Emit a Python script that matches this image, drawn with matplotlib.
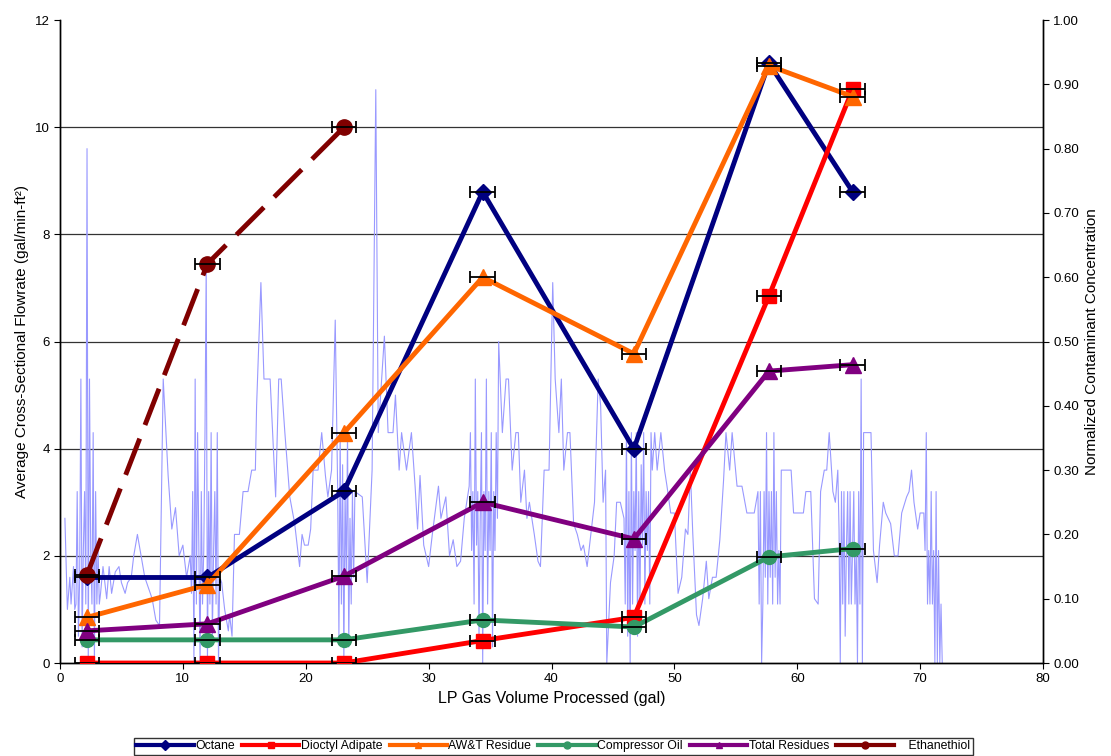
import matplotlib
matplotlib.use("Agg")
import matplotlib.pyplot as plt
from matplotlib.ticker import FormatStrFormatter, MultipleLocator

plt.rcParams['font.family'] = ['Liberation Sans', 'DejaVu Sans']

# ---- Flowrate trace (left axis) ----
flow_x = [0.4, 0.6, 0.8, 0.9, 1.1, 1.2,
          1.3, 1.4, 1.5, 1.6, 1.7, 1.8, 1.9, 2.0, 2.1, 2.2, 2.3, 2.4, 2.5, 2.6, 2.7, 2.8, 2.9, 3.0, 3.1, 3.2, 3.3,
          3.5, 3.8, 4.0, 4.2, 4.5, 4.8, 5.0, 5.3, 5.5, 5.8, 6.0, 6.3, 6.6, 6.9, 7.2, 7.5, 7.8, 8.1, 8.4, 8.8, 9.1,
          9.4, 9.7, 10.0, 10.3,
          10.6, 10.7, 10.8, 10.9, 11.0, 11.1, 11.2, 11.3, 11.4, 11.5, 11.6, 11.7, 11.8, 11.9, 12.0, 12.1, 12.2,
          12.3, 12.4, 12.5, 12.6, 12.7, 12.8, 12.9, 13.0,
          13.16, 13.4, 13.7, 13.8, 14.0, 14.2, 14.6, 14.9, 15.3, 15.6, 15.9, 16.0, 16.35, 16.6, 17.1, 17.55, 17.8,
          18.0, 18.3, 18.7, 19.1, 19.5, 19.7, 19.9, 20.2, 20.4, 20.6, 21.0, 21.3, 21.6, 21.8, 22.1, 22.4, 22.5,
          22.6, 22.7, 22.8, 22.9, 23.0, 23.1, 23.2, 23.3, 23.4, 23.5, 23.6, 23.7, 23.8, 23.9, 24.0,
          24.6, 25.0, 25.4, 25.7, 25.9, 26.4, 26.7, 27.1, 27.3, 27.6, 27.8, 28.2, 28.6, 28.9, 29.1, 29.3, 29.6,
          30.0, 30.3, 30.8, 31.0, 31.4, 31.7, 32.0, 32.3, 32.6, 32.9, 33.3,
          33.4, 33.5, 33.6, 33.7, 33.8, 33.9, 34.0, 34.1, 34.2, 34.3, 34.4, 34.5, 34.6, 34.7, 34.8, 34.9, 35.0,
          35.1, 35.2, 35.3, 35.4, 35.5, 35.6,
          35.7, 36.0, 36.3, 36.5, 36.8, 37.1, 37.3, 37.5, 37.8, 38.0, 38.2, 38.6, 38.9, 39.1, 39.4, 39.8, 40.1,
          40.3, 40.6, 40.8, 41.0, 41.3, 41.5, 41.8, 42.1, 42.4, 42.6, 42.9, 43.2, 43.5, 43.8, 44.0, 44.2, 44.4,
          44.5, 44.8, 45.1, 45.3, 45.6, 45.9,
          46.0, 46.1, 46.2, 46.3, 46.4, 46.5, 46.6, 46.7, 46.8, 46.9, 47.0, 47.1, 47.2, 47.3, 47.4, 47.5, 47.6,
          47.7, 47.8, 47.9, 48.0, 48.1, 48.2,
          48.4, 48.6, 48.9, 49.2, 49.4, 49.7, 50.0, 50.3, 50.6, 50.9, 51.1, 51.3, 51.5, 51.8, 52.0, 52.3, 52.6,
          52.8, 53.1, 53.4, 53.7, 54.0, 54.2, 54.5, 54.7, 55.1, 55.5, 55.9, 56.5, 56.8,
          56.9, 57.0, 57.1, 57.2, 57.3, 57.4, 57.5, 57.6, 57.7, 57.8, 57.9, 58.0, 58.1, 58.2, 58.3, 58.4, 58.5,
          58.6, 58.7,
          59.1, 59.5, 59.7, 59.9, 60.5, 60.7, 61.1, 61.4, 61.7, 61.9, 62.2, 62.4, 62.6, 62.9, 63.1, 63.3, 63.4,
          63.5, 63.6, 63.7, 63.8, 63.9, 64.0, 64.1, 64.2, 64.3, 64.4, 64.5, 64.6, 64.7, 64.8, 64.9, 65.0, 65.1,
          65.2, 65.3, 65.4,
          65.7, 66.0, 66.2, 66.5, 66.7, 67.0, 67.2, 67.6, 67.9, 68.2, 68.5, 68.9, 69.1, 69.3, 69.5, 69.8, 70.0,
          70.3,
          70.4, 70.5, 70.6, 70.7, 70.8, 70.9, 71.0, 71.1, 71.2, 71.3, 71.4, 71.5, 71.6, 71.7, 71.8]
flow_y = [2.7, 1.0, 1.6, 1.1, 1.8, 1.0,
          1.1, 3.2, 0.5, 1.6, 5.3, 0.3, 2.1, 3.2, 1.1, 9.6, 0.0, 5.3, 2.1, 1.1, 4.3, 0.0, 3.2, 1.1, 2.1, 1.1, 1.3,
          1.8, 1.2, 1.8, 1.3, 1.7, 1.8, 1.5, 1.3, 1.5, 1.6, 2.0, 2.4, 2.0, 1.6, 1.4, 1.2, 0.8, 0.7, 5.3, 3.5, 2.5,
          2.9, 2.0, 2.2, 1.6,
          2.0, 1.3, 3.2, 0.0, 5.3, 1.1, 4.3, 2.1, 0.0, 3.2, 1.1, 2.1, 4.3, 7.45, 0.0, 3.2, 1.1,
          4.3, 0.5, 2.1, 3.2, 1.1, 4.3, 0.0, 1.6,
          1.5, 1.0, 0.6, 0.9, 0.5, 2.4, 2.4, 3.2, 3.2, 3.6, 3.6, 4.8, 7.1, 5.3, 5.3, 3.1, 5.3,
          5.3, 4.3, 3.1, 2.6, 1.8, 2.4, 2.2, 2.2, 2.5, 3.6, 3.6, 4.3, 3.5, 3.1, 3.6, 6.4, 4.8,
          3.2, 0.5, 4.3, 1.1, 3.7, 0.0, 3.2, 1.6, 4.3, 0.3, 2.7, 1.1, 3.2, 1.6, 3.2,
          3.1, 1.5, 3.6, 10.7, 4.3, 6.1, 4.3, 4.3, 5.0, 3.6, 4.3, 3.6, 4.3, 3.3, 2.5, 3.5, 2.2,
          1.8, 2.4, 3.3, 2.7, 3.1, 2.0, 2.3, 1.8, 1.9, 2.7, 3.3,
          4.3, 2.1, 3.2, 1.1, 5.3, 2.2, 3.2, 0.5, 2.7, 4.3, 0.0, 3.2, 2.1, 5.3, 1.1, 3.2, 2.1,
          4.3, 0.3, 3.2, 2.1, 4.3, 2.7,
          6.0, 4.3, 5.3, 5.3, 3.6, 4.3, 4.3, 3.0, 3.6, 2.7, 3.0, 2.4, 1.9, 1.8, 3.6, 3.6, 7.1,
          5.3, 4.3, 5.3, 3.6, 4.3, 4.3, 2.6, 2.4, 2.1, 2.2, 1.8, 2.4, 3.0, 5.3, 4.8, 3.0, 3.6,
          0.0, 1.5, 2.0, 3.0, 3.0, 2.7,
          1.1, 4.3, 0.5, 3.2, 0.0, 4.3, 1.1, 3.2, 2.1, 4.3, 0.5, 3.2, 1.1, 3.7, 2.2, 4.3, 1.1,
          3.2, 2.1, 3.2, 1.1, 4.3, 3.6,
          4.3, 3.6, 4.3, 3.6, 3.3, 2.8, 2.8, 1.3, 1.6, 2.5, 2.4, 3.6, 2.4, 0.9, 0.7, 1.2, 1.9,
          1.2, 1.6, 1.6, 2.3, 3.4, 4.3, 3.6, 4.3, 3.3, 3.3, 2.8, 2.8, 3.2,
          1.1, 3.2, 0.0, 1.1, 3.2, 1.6, 4.3, 1.1, 3.2, 1.6, 3.2, 1.1, 4.3, 1.6, 3.2, 1.1, 2.1,
          1.1, 3.6,
          3.6, 3.6, 2.8, 2.8, 2.8, 3.2, 3.2, 1.2, 1.1, 3.2, 3.6, 3.6, 4.3, 3.2, 3.0, 3.6, 2.5,
          0.0, 3.2, 1.1, 3.2, 0.5, 2.1, 3.2, 1.1, 3.2, 1.1, 2.1, 3.2, 1.1, 2.1, 0.0, 3.2, 1.1,
          5.3, 0.0, 4.3,
          4.3, 4.3, 2.1, 1.5, 2.2, 3.0, 2.8, 2.6, 2.0, 2.0, 2.8, 3.1, 3.2, 3.6, 3.0, 2.5, 2.8,
          2.8,
          2.1, 4.3, 1.1, 2.1, 1.1, 3.2, 1.1, 2.1, 0.0, 3.2, 0.0, 2.1, 0.0, 1.1, 0.0]

# ---- Contaminant series (right axis) ----
volume = [2.2, 12.0, 23.1, 34.4, 46.7, 57.7, 64.5]
octane = [0.133, 0.133, 0.267, 0.733, 0.333, 0.933, 0.733]
dioctyl = [0.0, 0.0, 0.0, 0.035, 0.071, 0.571, 0.892]
awt = [0.071, 0.122, 0.358, 0.600, 0.481, 0.929, 0.881]
comp_oil = [0.036, 0.036, 0.036, 0.067, 0.056, 0.165, 0.178]
total_res = [0.050, 0.061, 0.135, 0.250, 0.193, 0.454, 0.464]
eth_volume = [2.2, 12.0, 23.1]
ethanethiol = [0.1375, 0.621, 0.833]
vol_err = 1.0
grid_levels = [2, 4, 6, 8, 10]

fig = plt.figure(figsize=(11.11, 7.56), dpi=100)
ax = fig.add_axes([0.054, 0.123, 0.8848, 0.8505])
ax2 = ax.twinx()

for g in grid_levels:
    ax.axhline(g, color='#333333', lw=0.9, zorder=0)
ax.plot(flow_x, flow_y, color='#9999FF', lw=0.8, zorder=2)
ax.set_xlim(0, 80)
ax.set_ylim(0, 12)
ax.yaxis.set_major_locator(MultipleLocator(2))
ax.xaxis.set_major_locator(MultipleLocator(10))
ax2.set_ylim(0, 1.0)
ax2.yaxis.set_major_locator(MultipleLocator(0.1))
ax2.yaxis.set_major_formatter(FormatStrFormatter('%.2f'))

for a in (ax, ax2):
    a.spines['top'].set_visible(False)
    for s in ('left', 'right', 'bottom'):
        a.spines[s].set_linewidth(1.0)
    a.tick_params(direction='out', length=4, labelsize=9.5, colors='black')

ax.set_xlabel('LP Gas Volume Processed (gal)', fontsize=11.5)
ax.set_ylabel('Average Cross-Sectional Flowrate (gal/min-ft²)', fontsize=11)
ax2.set_ylabel('Normalized Contaminant Concentration', fontsize=11)

series = [
    ('Octane', volume, octane, '#000080', 'D', 8, '-'),
    ('Dioctyl Adipate', volume, dioctyl, '#FF0000', 's', 10, '-'),
    ('AW&T Residue', volume, awt, '#FF6600', '^', 11, '-'),
    ('Compressor Oil', volume, comp_oil, '#339966', 'o', 10, '-'),
    ('Total Residues', volume, total_res, '#800080', '^', 11, '-'),
]
handles = []
for name, xs, ys, c, m, ms, ls in series:
    ax2.errorbar(xs, ys, xerr=vol_err, fmt='none', ecolor='black', elinewidth=1.3,
                 capsize=4, capthick=1.3, zorder=4)
    ln, = ax2.plot(xs, ys, color=c, lw=3.5, marker=m, ms=ms, mfc=c, mec=c, ls=ls, label=name, zorder=3)
    handles.append(ln)

ax2.errorbar(eth_volume, ethanethiol, xerr=vol_err, fmt='none', ecolor='black', elinewidth=1.3,
             capsize=4, capthick=1.3, zorder=4)
ln, = ax2.plot(eth_volume, ethanethiol, color='#800000', lw=3.5, marker='o', ms=11,
               dashes=(8, 3), label='Ethanethiol', zorder=3)
handles.append(ln)

leg_handles = []
for h in handles:
    lh, = ax2.plot([], [], color=h.get_color(), lw=3, marker=h.get_marker(), ms=5)
    leg_handles.append(lh)
leg_labels = [h.get_label() for h in handles]
leg_labels[-1] = '    ' + leg_labels[-1]
leg = fig.legend(leg_handles, leg_labels, loc='center',
                 bbox_to_anchor=(0.498, 0.013), ncol=6, fontsize=8.8, frameon=True,
                 fancybox=False, edgecolor='black', handlelength=4.7, handletextpad=0.1,
                 columnspacing=0.6, borderpad=0.2)
leg.get_frame().set_linewidth(1.0)

fig.savefig('out.png', dpi=100)
